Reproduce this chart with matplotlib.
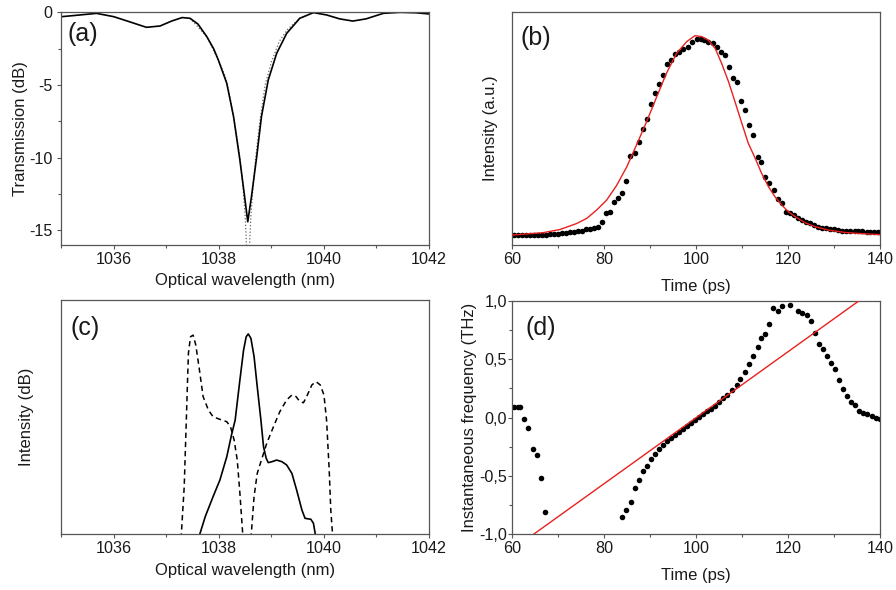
"""Fibre filter transmission, pulse intensity, spectra and chirp: 2x2 panels."""

import matplotlib
matplotlib.use('Agg')
matplotlib.rcParams.update({
    'font.family': ['Liberation Sans', 'DejaVu Sans'],
    'axes.unicode_minus': False,
})
import matplotlib.pyplot as plt
from matplotlib.ticker import MultipleLocator, FuncFormatter

# ---- Sizes / styling ----
W, H = 896, 590
DPI = 100
TICK_SIZE = 11.6
LABEL_SIZE = 12
PANEL_SIZE = 18
C_SPINE = '#555555'
C_TEXT = '#1a1a1a'
C_RED = '#E8201E'

# ---- (a) transmission ----
a_wl = [1035.00, 1035.30, 1035.67, 1036.00, 1036.30, 1036.62, 1036.88, 1037.10,
        1037.30, 1037.45, 1037.60, 1037.77, 1037.90, 1037.99, 1038.15, 1038.28,
        1038.40, 1038.49, 1038.55, 1038.62, 1038.72, 1038.81, 1038.94, 1039.10,
        1039.29, 1039.54, 1039.80, 1040.05, 1040.30, 1040.55, 1040.80, 1041.13,
        1041.45, 1041.75, 1042.00]
a_meas = [-0.30, -0.20, -0.07, -0.30, -0.65, -1.03, -0.94, -0.60,
          -0.36, -0.41, -0.80, -1.67, -2.50, -3.28, -4.88, -7.18,
          -10.16, -12.68, -14.40, -12.68, -9.93, -7.18, -4.65, -2.82,
          -1.45, -0.41, -0.02, -0.18, -0.45, -0.60, -0.45, -0.07,
          0.00, -0.03, -0.11]
a_wl_sim = [1037.45, 1037.77, 1037.99, 1038.12, 1038.21, 1038.31, 1038.40, 1038.46,
            1038.50, 1038.52, 1038.53, 1038.58, 1038.59, 1038.61, 1038.65, 1038.70,
            1038.78, 1038.88, 1039.00, 1039.15, 1039.30, 1039.54, 1039.80]
a_sim = [-0.41, -1.67, -3.28, -4.40, -5.80, -7.86, -10.00, -12.00,
         -14.00, -15.50, -16.50, -16.50, -15.50, -14.00, -12.00, -10.00,
         -7.50, -5.00, -3.40, -2.00, -1.20, -0.41, -0.02]

# ---- (b) pulse intensity ----
b_t = [60.4, 61.2, 62.1, 63.0, 63.8, 64.7, 65.6, 66.5, 67.3, 68.2,
       69.1, 69.9, 70.8, 71.7, 72.5, 73.4, 74.3, 75.2, 76.0, 76.9,
       77.8, 78.6, 79.5, 80.4, 81.2, 82.1, 83.0, 83.9, 84.8, 85.6,
       86.6, 87.5, 88.3, 89.2, 90.1, 91.0, 91.9, 92.8, 93.6, 94.6,
       95.4, 96.3, 97.2, 98.1, 99.0, 100.1, 100.95, 101.75, 102.6, 103.6,
       104.4, 105.3, 106.2, 107.0, 107.9, 108.8, 109.7, 110.6, 111.5, 112.4,
       113.3, 114.1, 115.0, 115.9, 116.8, 117.7, 118.6, 119.4, 120.3, 121.2,
       122.0, 122.9, 123.8, 124.7, 125.6, 126.5, 127.3, 128.2, 129.1, 130.0,
       130.9, 131.7, 132.6, 133.5, 134.4, 135.2, 136.1, 137.0, 137.8, 138.7,
       139.6]
b_int = [0.000, 0.000, 0.000, 0.000, 0.000, 0.000, 0.000, 0.000, 0.000, 0.003,
         0.005, 0.007, 0.008, 0.012, 0.013, 0.017, 0.018, 0.020, 0.028, 0.032,
         0.035, 0.042, 0.067, 0.109, 0.117, 0.167, 0.187, 0.212, 0.271, 0.396,
         0.410, 0.465, 0.530, 0.582, 0.657, 0.714, 0.757, 0.801, 0.858, 0.878,
         0.906, 0.920, 0.931, 0.945, 0.970, 0.982, 0.982, 0.978, 0.970, 0.962,
         0.942, 0.920, 0.903, 0.841, 0.786, 0.768, 0.671, 0.628, 0.552, 0.502,
         0.390, 0.368, 0.289, 0.259, 0.226, 0.181, 0.159, 0.115, 0.112, 0.100,
         0.084, 0.075, 0.064, 0.059, 0.050, 0.042, 0.037, 0.033, 0.028, 0.028,
         0.025, 0.021, 0.021, 0.021, 0.021, 0.020, 0.018, 0.017, 0.015, 0.013,
         0.013]
b_fit_t = [60.0, 66.7, 70.4, 74.0, 76.2, 78.3, 80.5, 82.7, 84.9, 87.0,
           89.2, 91.4, 93.5, 95.7, 97.9, 99.7, 101.2, 102.6, 104.1, 105.5,
           107.0, 108.4, 109.9, 111.3, 112.8, 114.2, 115.7, 117.1, 118.6, 120.0,
           121.5, 123.6, 125.8, 128.7, 132.3, 136.0, 140.0]
b_fit = [0.000, 0.012, 0.028, 0.058, 0.084, 0.125, 0.175, 0.250, 0.343, 0.452,
         0.569, 0.694, 0.811, 0.911, 0.970, 1.000, 0.995, 0.978, 0.936, 0.861,
         0.769, 0.669, 0.560, 0.460, 0.385, 0.309, 0.242, 0.192, 0.150, 0.117,
         0.092, 0.062, 0.042, 0.025, 0.013, 0.007, 0.002]

# ---- (c) spectra (relative log intensity, no scale shown) ----
c_wl_out = [1037.61, 1037.74, 1037.89, 1038.02, 1038.15, 1038.24, 1038.31, 1038.40,
            1038.47, 1038.52, 1038.56, 1038.61, 1038.67, 1038.73, 1038.80, 1038.85,
            1038.90, 1038.94, 1039.01, 1039.10, 1039.20, 1039.29, 1039.39, 1039.48,
            1039.58, 1039.64, 1039.75, 1039.80, 1039.85]
c_out = [-0.02, 0.074, 0.160, 0.231, 0.330, 0.423, 0.487, 0.658,
         0.786, 0.843, 0.855, 0.836, 0.758, 0.630, 0.487, 0.373,
         0.324, 0.305, 0.309, 0.316, 0.309, 0.295, 0.259, 0.188,
         0.103, 0.067, 0.063, 0.046, -0.02]
c_wl_in_l = [1037.28, 1037.34, 1037.39, 1037.42, 1037.46, 1037.51, 1037.56, 1037.63,
             1037.70, 1037.80, 1037.89, 1038.02, 1038.15, 1038.22, 1038.29, 1038.35,
             1038.40, 1038.46]
c_in_l = [-0.02, 0.202, 0.558, 0.772, 0.843, 0.850, 0.808, 0.701,
          0.587, 0.530, 0.501, 0.490, 0.480, 0.459, 0.402, 0.316,
          0.174, -0.02]
c_wl_in_r = [1038.61, 1038.67, 1038.73, 1038.81, 1038.91, 1039.04, 1039.16, 1039.29,
             1039.39, 1039.47, 1039.54, 1039.61, 1039.67, 1039.77, 1039.85, 1039.93,
             1040.00, 1040.05, 1040.10, 1040.13, 1040.17]
c_in_r = [-0.02, 0.160, 0.259, 0.316, 0.387, 0.459, 0.523, 0.573,
          0.594, 0.587, 0.566, 0.561, 0.587, 0.637, 0.651, 0.637,
          0.594, 0.487, 0.274, 0.103, -0.02]

# ---- (d) instantaneous frequency ----
d_t = [60.4, 61.2, 61.7, 62.6, 63.5, 64.4, 65.3, 66.2, 67.1,
       83.9, 84.8, 85.7, 86.6, 87.5, 88.3, 89.3, 90.2, 91.0, 91.9,
       92.8, 93.6, 94.5, 95.4, 96.2, 97.1, 98.0, 98.8, 99.7, 100.6,
       101.5, 102.3, 103.2, 104.1, 104.9, 105.8, 106.7, 107.7, 108.8, 109.6,
       110.6, 111.5, 112.4, 113.3, 114.1, 115.0, 115.9, 116.75, 117.7, 118.6,
       120.4, 122.2, 123.05, 124.0, 124.9, 125.7, 126.6, 127.5, 128.3, 129.3,
       130.2, 131.0, 131.9, 132.8, 133.6, 134.5, 135.4, 136.3, 137.2, 138.1,
       139.0, 139.9]
d_freq = [0.086, 0.086, 0.091, -0.012, -0.094, -0.272, -0.321, -0.521, -0.813,
          -0.850, -0.790, -0.721, -0.601, -0.536, -0.458, -0.412, -0.355, -0.309, -0.272,
          -0.235, -0.203, -0.175, -0.149, -0.123, -0.098, -0.072, -0.049, -0.023, 0.003,
          0.028, 0.054, 0.077, 0.103, 0.129, 0.166, 0.194, 0.232, 0.275, 0.329,
          0.389, 0.460, 0.529, 0.601, 0.681, 0.715, 0.804, 0.938, 0.915, 0.961,
          0.967, 0.915, 0.895, 0.876, 0.829, 0.724, 0.632, 0.586, 0.532, 0.466,
          0.415, 0.318, 0.243, 0.185, 0.129, 0.108, 0.057, 0.043, 0.028, 0.014,
          0.000, -0.015]
d_fit_t = [64.7, 135.3]
d_fit = [-1.0, 1.0]


def style_axes(ax, ypad=3):
    for sp in ax.spines.values():
        sp.set_color(C_SPINE)
        sp.set_linewidth(0.9)
    ax.tick_params(which='both', direction='out', colors=C_SPINE,
                   labelcolor=C_TEXT, labelsize=TICK_SIZE, width=0.8,
                   top=False, right=False)
    ax.tick_params(which='major', length=2.8)
    ax.tick_params(which='minor', length=2.0)
    ax.tick_params(axis='x', which='major', pad=2)
    ax.tick_params(axis='y', which='major', pad=ypad)


def set_labels(ax, xlab, ylab, xpos, ypos):
    ax.set_xlabel(xlab, fontsize=LABEL_SIZE, color=C_TEXT, va='center')
    ax.set_ylabel(ylab, fontsize=LABEL_SIZE, color=C_TEXT, va='center')
    ax.xaxis.set_label_coords(0.5, xpos)
    ax.yaxis.set_label_coords(ypos, 0.5)


def panel_tag(ax, tag, x, y):
    ax.text(x, y, tag, transform=ax.transAxes, fontsize=PANEL_SIZE,
            color=C_TEXT, ha='left', va='center')


def comma_fmt(v, _):
    if abs(v) < 1e-9:
        v = 0.0
    return f'{v:.1f}'.replace('.', ',')


fig = plt.figure(figsize=(W / DPI, H / DPI), dpi=DPI)

# ----------------------------------------------------------------
# PANEL A
# ----------------------------------------------------------------
axA = fig.add_axes([0.0684, 0.5847, 0.4104, 0.3944])
axA.plot(a_wl_sim, a_sim, ':', color='#666666', lw=0.9)
axA.plot(a_wl, a_meas, '-', color='black', lw=1.2)
axA.set_xlim(1035, 1042)
axA.set_ylim(-16, 0)
axA.xaxis.set_major_locator(MultipleLocator(2))
axA.xaxis.set_minor_locator(MultipleLocator(1))
axA.yaxis.set_major_locator(MultipleLocator(5))
axA.yaxis.set_minor_locator(MultipleLocator(2.5))
style_axes(axA, ypad=3.5)
set_labels(axA, 'Optical wavelength (nm)', 'Transmission (dB)', -0.152, -0.112)
panel_tag(axA, '(a)', 0.016, 0.905)

# ----------------------------------------------------------------
# PANEL B
# ----------------------------------------------------------------
axB = fig.add_axes([0.5718, 0.5847, 0.4107, 0.3944])
axB.plot(b_fit_t, b_fit, '-', color=C_RED, lw=1.0, zorder=3)
axB.plot(b_t, b_int, 'o', color='black', ms=4.0, mec='none', zorder=2)
axB.set_xlim(60, 140)
axB.set_ylim(-0.050, 1.117)
axB.xaxis.set_major_locator(MultipleLocator(20))
axB.xaxis.set_minor_locator(MultipleLocator(10))
axB.set_yticks([])
style_axes(axB)
set_labels(axB, 'Time (ps)', 'Intensity (a.u.)', -0.178, -0.058)
panel_tag(axB, '(b)', 0.023, 0.888)

# ----------------------------------------------------------------
# PANEL C
# ----------------------------------------------------------------
axC = fig.add_axes([0.0684, 0.0949, 0.4104, 0.3966])
axC.plot(c_wl_in_l, c_in_l, color='black', lw=1.1, ls=(0, (3.5, 2.5)))
axC.plot(c_wl_in_r, c_in_r, color='black', lw=1.1, ls=(0, (3.5, 2.5)))
axC.plot(c_wl_out, c_out, '-', color='black', lw=1.2)
axC.set_xlim(1035, 1042)
axC.set_ylim(0, 1)
axC.xaxis.set_major_locator(MultipleLocator(2))
axC.xaxis.set_minor_locator(MultipleLocator(1))
axC.set_yticks([])
style_axes(axC)
set_labels(axC, 'Optical wavelength (nm)', 'Intensity (dB)', -0.156, -0.094)
panel_tag(axC, '(c)', 0.024, 0.879)

# ----------------------------------------------------------------
# PANEL D
# ----------------------------------------------------------------
axD = fig.add_axes([0.5718, 0.0949, 0.4107, 0.3949])
axD.plot(d_fit_t, d_fit, '-', color=C_RED, lw=1.0, zorder=3)
axD.plot(d_t, d_freq, 'o', color='black', ms=4.0, mec='none', zorder=2)
axD.set_xlim(60, 140)
axD.set_ylim(-1, 1)
axD.xaxis.set_major_locator(MultipleLocator(20))
axD.xaxis.set_minor_locator(MultipleLocator(10))
axD.yaxis.set_major_locator(MultipleLocator(0.5))
axD.yaxis.set_minor_locator(MultipleLocator(0.25))
axD.yaxis.set_major_formatter(FuncFormatter(comma_fmt))
style_axes(axD, ypad=1)
set_labels(axD, 'Time (ps)', 'Instantaneous frequency (THz)', -0.178, -0.116)
panel_tag(axD, '(d)', 0.035, 0.884)

fig.savefig('out.png', dpi=DPI)
